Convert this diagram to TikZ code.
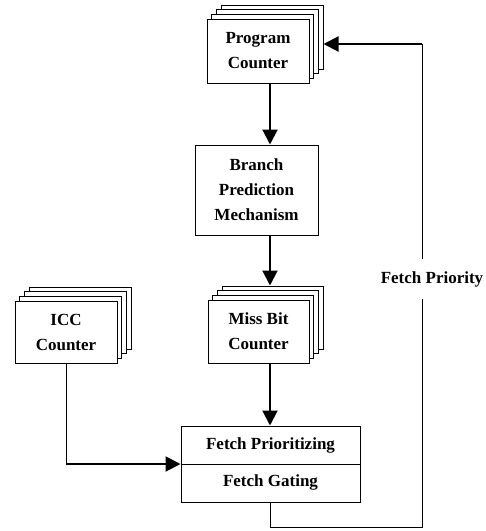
\documentclass[tikz,border=0pt]{standalone}
\usepackage{fontspec}
\setmainfont{Liberation Serif}
\usetikzlibrary{arrows.meta,shadows}
\begin{document}
\begin{tikzpicture}[x=1pt,y=-1pt,
  txt/.style={font=\bfseries\fontsize{17}{25}\selectfont, align=center, inner sep=0pt},
  box/.style={txt, draw, line width=1pt, fill=white},
  layer/.style={general shadow={shadow scale=1, shadow xshift=#1, shadow yshift=#1, fill=white, draw=black, line width=1pt, opacity=1}},
  stackbox/.style={box, layer=14pt, layer=9.5pt, layer=4.7pt},
  thin/.style={line width=1pt},
  thick/.style={line width=2pt, -{Triangle[length=15pt,width=15pt]}},
  thickline/.style={line width=2pt}
]
\useasboundingbox (0,0) rectangle (486,531);

\node[stackbox, minimum width=102pt, minimum height=64pt] (pc) at (258,51) {Program\\Counter};
\node[box, minimum width=123pt, minimum height=90pt] (br) at (256.5,190) {Branch\\Prediction\\Mechanism};
\node[stackbox, minimum width=101pt, minimum height=63pt] (mb) at (258.5,331.5) {Miss Bit\\Counter};
\node[stackbox, minimum width=102pt, minimum height=62pt] (icc) at (66,332) {ICC\\Counter};
\node[box, minimum width=179pt, minimum height=76pt] (fp) at (270.5,464) {};
\draw[thin] (fp.west) -- (fp.east);
\node[txt] (fpa) at (270.5,445) {Fetch Prioritizing};
\node[txt] (fpb) at (270.5,482) {Fetch Gating};

\coordinate (ax) at (270,0);
\coordinate (mbback) at ([yshift=14pt]mb.north);
\draw[thick] (pc.south -| ax) -- (br.north -| ax);
\draw[thick] (br.south -| ax) -- (mbback -| ax);
\draw[thick] (mb.south -| ax) -- (fp.north -| ax);

\coordinate (iccturn) at (66,464);
\draw[thin] (icc.south) -- (iccturn);
\draw[thick] (iccturn) -- (fp.west);

\coordinate (fb1) at (270,527);
\coordinate (fb2) at (422,527);
\coordinate (fb3) at (422,44);
\coordinate (pcback) at ([xshift=14pt]pc.east);
\draw[thin] (fp.south -| fb1) -- (fb1) -- (fb2) -- (fb3);
\draw[thick] (fb3) -- (fb3 -| pcback);
\node[txt, fill=white, inner ysep=12pt, inner xsep=2pt] (fplab) at (432,279) {Fetch Priority};
\end{tikzpicture}
\end{document}
